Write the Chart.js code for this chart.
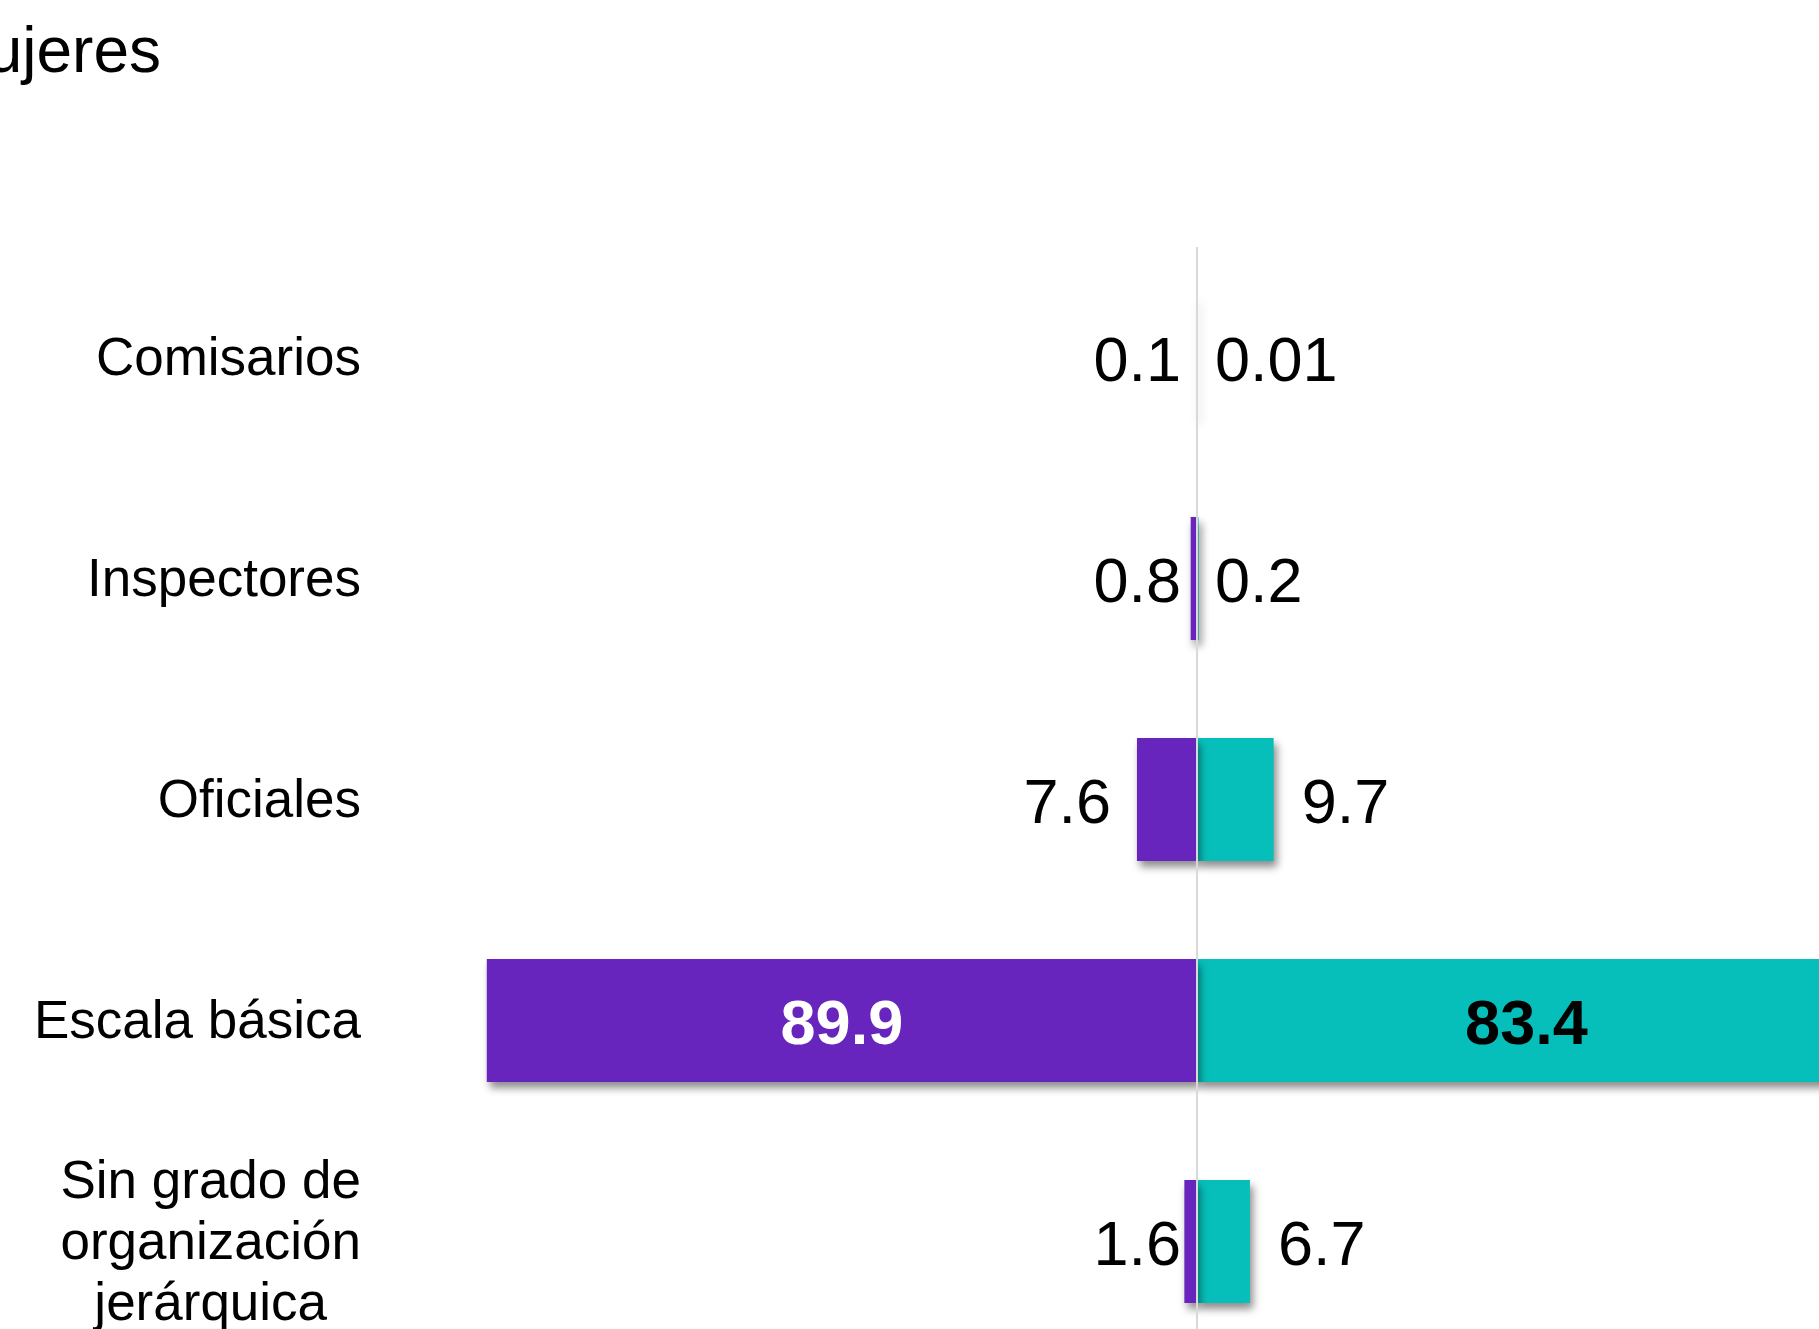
<!DOCTYPE html>
<html>
<head>
<meta charset="utf-8">
<script src="https://cdn.jsdelivr.net/npm/chart.js@4.4.1/dist/chart.umd.min.js"></script>
<style>
  html, body { margin: 0; padding: 0; background: #fff; overflow: hidden; }
  #wrap { position: absolute; left: 0; top: 0; width: 1819px; height: 1352px; }
</style>
</head>
<body>
<div id="wrap"><canvas id="chart"></canvas></div>
<script>
// butterfly bar chart, right half of "Mujeres" panel

const categories = [
  'Comisarios',
  'Inspectores',
  'Oficiales',
  'Escala básica',
  ['Sin grado de', 'organización', 'jerárquica'],
];
const purpleValues = [0.1, 0.8, 7.6, 89.9, 1.6];
const tealValues = [0.01, 0.2, 9.7, 83.4, 6.7];
const titleText = 'Mujeres';

const COLORS = { purple: '#6825be', teal: '#07bfba', axis: '#d9d9d9', text: '#000000' };
const FONT = '"Liberation Sans", Arial, sans-serif';

const shadowPlugin = {
  id: 'barShadow',
  beforeDatasetsDraw(chart) {
    const ctx = chart.ctx;
    ctx.save();
    ctx.shadowColor = 'rgba(0,0,0,0.45)';
    ctx.shadowBlur = 8;
    ctx.shadowOffsetX = 3;
    ctx.shadowOffsetY = 6;
  },
  afterDatasetsDraw(chart) {
    chart.ctx.restore();
  },
};

const decorPlugin = {
  id: 'decor',
  afterDatasetsDraw(chart) {
    const ctx = chart.ctx;
    const x = chart.scales.x;
    const y = chart.scales.y;
    const area = chart.chartArea;
    const zero = x.getPixelForValue(0);

    // zero line
    ctx.save();
    ctx.strokeStyle = COLORS.axis;
    ctx.lineWidth = 2;
    ctx.beginPath();
    ctx.moveTo(zero, area.top);
    ctx.lineTo(zero, area.bottom);
    ctx.stroke();
    ctx.restore();

    // category labels
    ctx.save();
    ctx.fillStyle = COLORS.text;
    ctx.font = '53px ' + FONT;
    ctx.textBaseline = 'middle';
    categories.forEach((lab, i) => {
      const cy = y.getPixelForValue(i);
      const lines = Array.isArray(lab) ? lab : [lab];
      const widths = lines.map(l => ctx.measureText(l).width);
      const maxW = Math.max(...widths);
      const right = 361;
      const lh = 61;
      lines.forEach((l, j) => {
        const ly = cy + 3 + (j - (lines.length - 1) / 2) * lh;
        ctx.textAlign = 'center';
        ctx.fillText(l, right - maxW / 2, ly);
      });
    });
    ctx.restore();

    // value labels
    ctx.save();
    ctx.textBaseline = 'middle';
    chart.data.datasets.forEach((ds, di) => {
      const meta = chart.getDatasetMeta(di);
      meta.data.forEach((bar, i) => {
        const v = Math.abs(ds.data[i]);
        const txt = String(v);
        const len = Math.abs(bar.x - bar.base);
        const cy = bar.y + 6;
        if (len > 300) {
          ctx.font = 'bold 63px ' + FONT;
          ctx.fillStyle = di === 0 ? '#ffffff' : '#000000';
          ctx.textAlign = 'center';
          ctx.fillText(txt, (bar.x + bar.base) / 2, cy);
        } else {
          ctx.font = '63px ' + FONT;
          ctx.fillStyle = COLORS.text;
          const gap = len < 20 ? 16 : 26;
          if (di === 0) {
            ctx.textAlign = 'right';
            ctx.fillText(txt, (len < 20 ? zero : bar.x) - gap, cy);
          } else {
            ctx.textAlign = 'left';
            ctx.fillText(txt, (len < 20 ? zero : bar.x) + gap + 2, cy);
          }
        }
      });
    });
    ctx.restore();

    // panel title, partly cut off at the left edge
    ctx.save();
    ctx.font = '64px ' + FONT;
    ctx.fillStyle = COLORS.text;
    ctx.textAlign = 'right';
    ctx.textBaseline = 'alphabetic';
    ctx.fillText(titleText, 161, 72);
    ctx.restore();
  },
};

const pxPerUnit = 7.9;
const zeroPx = 1197;
const canvasW = 1819;

new Chart(document.getElementById('chart'), {
  type: 'bar',
  data: {
    labels: categories,
    datasets: [
      { label: 'purple', data: purpleValues.map(v => -v), backgroundColor: COLORS.purple, borderWidth: 0 },
      { label: 'teal', data: tealValues, backgroundColor: COLORS.teal, borderWidth: 0 },
    ],
  },
  options: {
    indexAxis: 'y',
    responsive: true, maintainAspectRatio: false,
    animation: false,
    layout: { padding: { top: 247, left: 0, right: 0, bottom: 0 } },
    datasets: { bar: { categoryPercentage: 1, barPercentage: 0.557 } },
    plugins: { legend: { display: false }, tooltip: { enabled: false } },
    scales: {
      x: { type: 'linear', stacked: true, display: false,
           min: -zeroPx / pxPerUnit, max: (canvasW - zeroPx) / pxPerUnit },
      y: { stacked: true, display: false },
    },
  },
  plugins: [shadowPlugin, decorPlugin],
});
</script>
</body>
</html>
